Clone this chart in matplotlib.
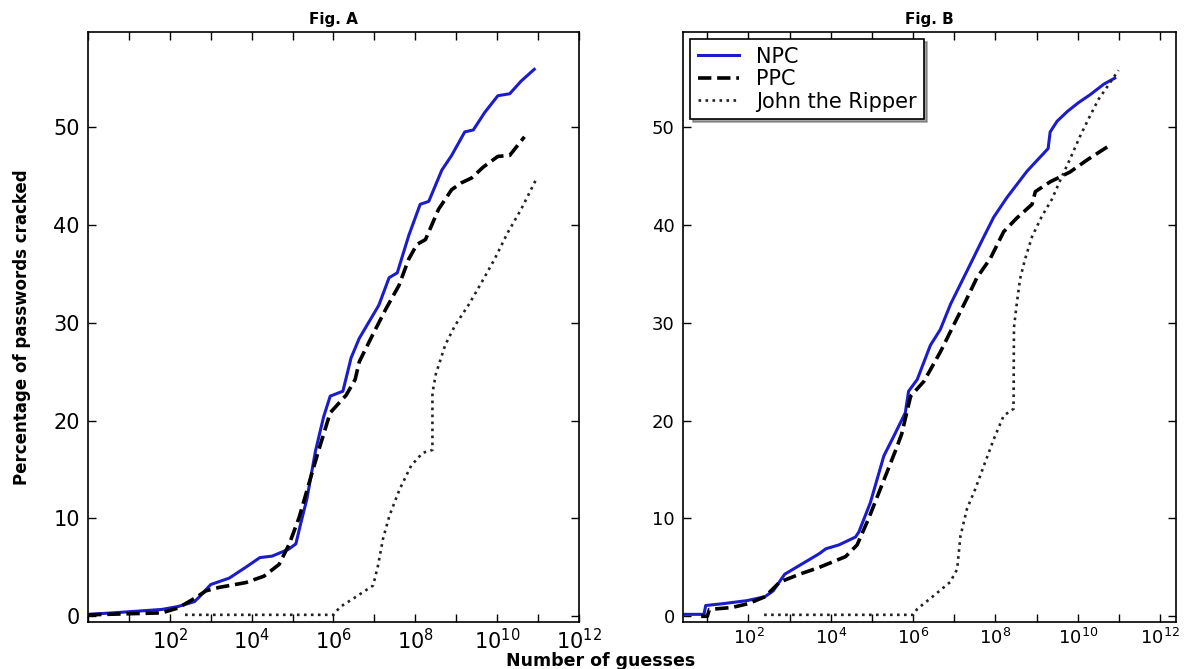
import numpy as np
import matplotlib
matplotlib.use("Agg")
import matplotlib.pyplot as plt
from matplotlib.ticker import FixedLocator, FuncFormatter, NullLocator

# ---------------- data (x stored as log10 of number of guesses) ----------------
A_NPC_logx = [0.0, 0.6, 1.8, 2.2, 2.6, 2.7, 3.0, 3.45, 3.85, 4.2, 4.5, 4.9, 5.08, 5.2, 5.35, 5.56,
              5.76, 5.92, 6.23, 6.43, 6.63, 6.87, 7.11, 7.36, 7.56, 7.84, 8.12, 8.33, 8.65, 8.89,
              9.21, 9.42, 9.7, 10.02, 10.31, 10.59, 10.91]
A_NPC_y = [0.2, 0.35, 0.7, 1.0, 1.5, 1.9, 3.25, 3.9, 5.0, 6.0, 6.15, 6.85, 7.4, 9.5, 12.0, 16.9,
           20.4, 22.5, 23.0, 26.4, 28.4, 30.1, 31.8, 34.6, 35.1, 38.9, 42.1, 42.4, 45.6, 47.1,
           49.5, 49.7, 51.5, 53.2, 53.4, 54.7, 55.9]

A_PPC_logx = [0.0, 1.8, 2.2, 2.63, 2.88, 3.2, 3.86, 4.3, 4.67, 4.92, 5.16, 5.43, 5.64, 5.92, 6.31,
              6.53, 6.63, 6.95, 7.28, 7.6, 7.84, 8.04, 8.25, 8.57, 8.89, 9.13, 9.38, 9.66, 10.02,
              10.31, 10.67]
A_PPC_y = [0.15, 0.35, 0.85, 1.9, 2.6, 2.95, 3.45, 4.1, 5.3, 7.4, 10.1, 14.0, 17.0, 20.8, 22.6,
           24.2, 26.0, 28.7, 31.4, 33.8, 36.5, 38.0, 38.5, 41.6, 43.6, 44.3, 44.8, 45.9, 47.0,
           47.1, 49.0]

A_JTR_logx = [2.37, 6.0, 6.16, 6.48, 6.97, 7.09, 7.21, 7.37, 7.62, 7.9, 8.18, 8.42, 8.42, 8.5,
              8.73, 8.97, 9.3, 9.62, 9.94, 10.26, 10.59, 10.95]
A_JTR_y = [0.15, 0.15, 0.95, 1.8, 3.15, 5.2, 7.9, 10.3, 13.0, 15.4, 16.7, 17.0, 22.8, 24.7,
           27.7, 29.7, 31.8, 34.1, 36.5, 39.2, 41.6, 44.6]

B_NPC_logx = [0.41, 0.92, 0.96, 1.4, 1.96, 2.4, 2.6, 2.88, 3.24, 3.72, 3.88, 4.2, 4.6, 4.68, 4.96,
              5.29, 5.53, 5.81, 5.89, 6.1, 6.42, 6.66, 6.91, 7.31, 7.72, 7.96, 8.28, 8.77, 9.28,
              9.33, 9.5, 9.75, 10.02, 10.3, 10.64, 10.9]
B_NPC_y = [0.2, 0.2, 1.1, 1.3, 1.6, 2.0, 2.6, 4.3, 5.2, 6.4, 6.9, 7.3, 8.1, 8.6, 11.6,
           16.4, 18.4, 20.8, 23.0, 24.2, 27.7, 29.3, 31.9, 35.3, 38.8, 40.8, 42.8, 45.5, 47.8,
           49.5, 50.6, 51.6, 52.5, 53.3, 54.4, 55.0]

B_PPC_logx = [0.85, 1.0, 1.05, 1.6, 2.0, 2.4, 2.76, 3.24, 3.72, 4.36, 4.64, 4.92, 5.24, 5.56, 5.72,
              5.94, 6.26, 6.66, 6.99, 7.31, 7.55, 7.88, 8.2, 8.52, 8.89, 8.97, 9.33, 9.81, 10.25,
              10.73]
B_PPC_y = [0.0, 0.0, 0.7, 0.9, 1.3, 2.0, 3.5, 4.3, 5.0, 6.1, 7.3, 10.0, 13.4, 16.8, 18.6,
           22.5, 24.0, 27.0, 29.8, 32.5, 34.6, 36.6, 39.3, 40.7, 42.1, 43.4, 44.4, 45.4, 46.7,
           48.0]

B_JTR_logx = [2.38, 6.0, 6.1, 6.5, 6.9, 7.07, 7.15, 7.31, 7.51, 7.72, 7.96, 8.2, 8.44, 8.45, 8.52,
              8.6, 8.72, 8.89, 9.13, 9.37, 9.6, 9.82, 10.05, 10.27, 10.5, 10.73, 10.99]
B_JTR_y = [0.15, 0.15, 0.75, 2.1, 3.5, 4.8, 8.2, 11.0, 13.0, 15.4, 18.1, 20.5, 21.2, 29.5, 32.0,
           34.5, 36.5, 38.8, 40.9, 42.6, 44.8, 46.8, 49.0, 50.9, 52.8, 54.2, 55.8]

series_labels = ["NPC", "PPC", "John the Ripper"]
titles = ["Fig. A", "Fig. B"]
y_ticks = [0, 10, 20, 30, 40, 50]
x_tick_exps = list(range(0, 13))
x_label_exps = [2, 4, 6, 8, 10, 12]

# ---------------- figure ----------------
fig = plt.figure(figsize=(11.91, 6.69), dpi=100)
fig.patch.set_facecolor("white")

axA = fig.add_axes([0.074, 0.070, 0.412, 0.882])
axB = fig.add_axes([0.5735, 0.070, 0.414, 0.882])

styles = [dict(color="#1c1cc8", lw=2.2, ls="-"),
          dict(color="black", lw=2.6, ls="--"),
          dict(color="#222222", lw=1.9, ls=":")]


def fmt(v, pos):
    e = int(round(np.log10(v)))
    return r"$10^{%d}$" % e if e in x_label_exps else ""


def setup(ax, xlim, ysize, xsize, title):
    ax.set_xscale("log")
    ax.set_xlim(*xlim)
    ax.set_ylim(-0.6, 59.7)
    ax.xaxis.set_major_locator(FixedLocator([10.0 ** e for e in x_tick_exps]))
    ax.xaxis.set_major_formatter(FuncFormatter(fmt))
    ax.xaxis.set_minor_locator(NullLocator())
    ax.set_yticks(y_ticks)
    ax.tick_params(axis="both", which="major", direction="in", top=True, right=True,
                   length=6, width=1, pad=6)
    ax.tick_params(axis="y", labelsize=ysize)
    ax.tick_params(axis="x", labelsize=xsize, pad=4)
    for s in ax.spines.values():
        s.set_linewidth(1.2)
        s.set_color("black")
    ax.set_title(title, fontsize=11, fontweight="bold", pad=6)


data = [
    (axA, [(A_NPC_logx, A_NPC_y), (A_PPC_logx, A_PPC_y), (A_JTR_logx, A_JTR_y)]),
    (axB, [(B_NPC_logx, B_NPC_y), (B_PPC_logx, B_PPC_y), (B_JTR_logx, B_JTR_y)]),
]
for ax, series in data:
    for (lx, y), st, lab in zip(series, styles, series_labels):
        ax.plot(10.0 ** np.array(lx), y, label=lab, **st)

setup(axA, (1.0, 1e12), 15, 15, titles[0])
setup(axB, (10 ** 0.41, 10 ** 12.39), 13, 13, titles[1])

leg = axB.legend(loc="upper left", fontsize=15, shadow=True, fancybox=False,
                 handlelength=2.0, borderaxespad=0.35, labelspacing=0.12,
                 borderpad=0.35, handletextpad=0.8, framealpha=1)
leg.get_frame().set_edgecolor("black")
leg.get_frame().set_linewidth(1.2)

fig.text(0.0185, 0.511, "Percentage of passwords cracked", rotation=90,
         ha="center", va="center", fontsize=12, fontweight="bold",
         family=["Liberation Sans Narrow", "DejaVu Sans"])
fig.text(0.504, 0.004, "Number of guesses", ha="center", va="baseline",
         fontsize=12.5, fontweight="bold")

fig.savefig("out.png", dpi=100, facecolor="white")
